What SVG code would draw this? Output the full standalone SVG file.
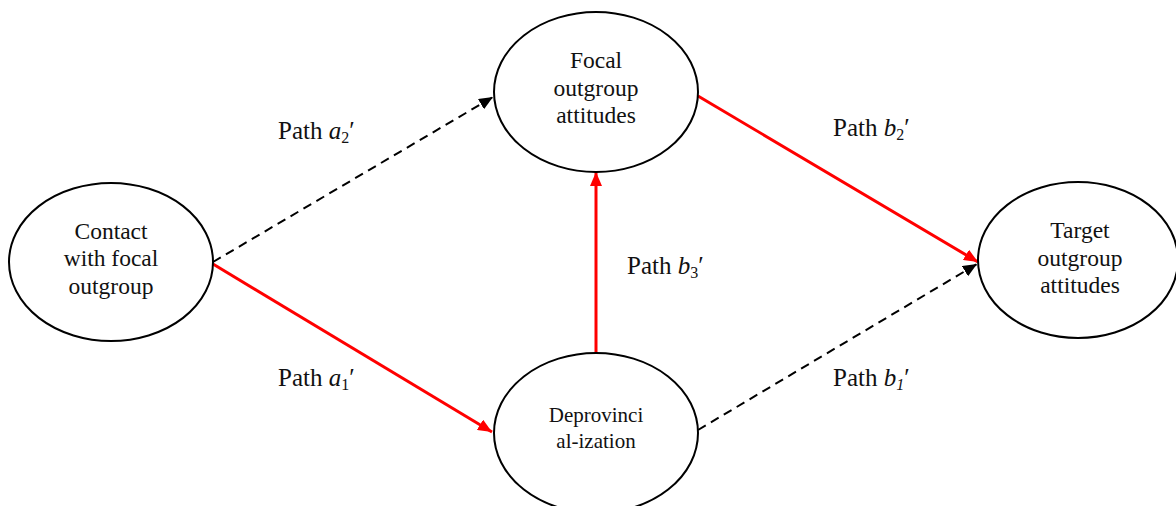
<svg xmlns="http://www.w3.org/2000/svg" width="1176" height="506" viewBox="0 0 1176 506">
  <style>
    .node ellipse { fill: #ffffff; stroke: #000000; stroke-width: 2; }
    .node text { font-family: "Liberation Serif", "Times New Roman", serif; font-size: 23.5px; fill: #111111; text-anchor: middle; }
    .node text.small { font-size: 21px; }
    .label { font-family: "Liberation Serif", "Times New Roman", serif; font-size: 25px; fill: #111111; }
    .label .v { font-style: italic; }
    .solid { stroke: #ff0000; stroke-width: 3; fill: none; }
    .dashed { stroke: #000000; stroke-width: 2; stroke-dasharray: 9 6; fill: none; }
  </style>
  <defs>
    <marker id="arrowRed" markerUnits="userSpaceOnUse" markerWidth="14" markerHeight="12" refX="14" refY="6" orient="auto">
      <path d="M0,0 L14,6 L0,12 Z" fill="#ff0000"/>
    </marker>
    <marker id="arrowBlack" markerUnits="userSpaceOnUse" markerWidth="14" markerHeight="12" refX="14" refY="6" orient="auto">
      <path d="M0,0 L14,6 L0,12 Z" fill="#000000"/>
    </marker>
  </defs>
  <rect width="1176" height="506" fill="#ffffff"/>

  <!-- connectors -->
  <g id="connectors">
    <line id="path-a2" class="dashed" x1="213" y1="262" x2="493" y2="97" marker-end="url(#arrowBlack)"/>
    <line id="path-a1" class="solid" x1="213" y1="264" x2="492" y2="432" marker-end="url(#arrowRed)"/>
    <line id="path-b3" class="solid" x1="596" y1="353" x2="596" y2="172" marker-end="url(#arrowRed)"/>
    <line id="path-b2" class="solid" x1="698" y1="96" x2="978" y2="262" marker-end="url(#arrowRed)"/>
    <line id="path-b1" class="dashed" x1="698" y1="430" x2="977" y2="264" marker-end="url(#arrowBlack)"/>
  </g>

  <!-- nodes -->
  <g id="contact" class="node">
    <ellipse cx="111" cy="262" rx="102" ry="79"/>
    <text x="111" y="239">Contact</text>
    <text x="111" y="266">with focal</text>
    <text x="111" y="294">outgroup</text>
  </g>
  <g id="focal" class="node">
    <ellipse cx="596" cy="92" rx="102" ry="80"/>
    <text x="596" y="68">Focal</text>
    <text x="596" y="96">outgroup</text>
    <text x="596" y="123">attitudes</text>
  </g>
  <g id="deprovincialization" class="node">
    <ellipse cx="596" cy="433" rx="102" ry="80"/>
    <text class="small" x="596" y="422">Deprovinci</text>
    <text class="small" x="596" y="448">al-ization</text>
  </g>
  <g id="target" class="node">
    <ellipse cx="1078" cy="260" rx="100" ry="78"/>
    <text x="1080" y="238">Target</text>
    <text x="1080" y="266">outgroup</text>
    <text x="1080" y="293">attitudes</text>
  </g>

  <!-- path labels -->
  <g id="labels">
    <text class="label" x="278" y="139">Path <tspan class="v">a</tspan><tspan font-size="16" dy="4">2</tspan><tspan dy="-4">′</tspan></text>
    <text class="label" x="278" y="386">Path <tspan class="v">a</tspan><tspan font-size="16" dy="4">1</tspan><tspan dy="-4">′</tspan></text>
    <text class="label" x="627" y="274">Path <tspan class="v">b</tspan><tspan font-size="16" dy="4">3</tspan><tspan dy="-4">′</tspan></text>
    <text class="label" x="833" y="136">Path <tspan class="v">b</tspan><tspan font-size="16" dy="4">2</tspan><tspan dy="-4">′</tspan></text>
    <text class="label" x="833" y="386">Path <tspan class="v">b</tspan><tspan class="v" font-size="16" dy="4">1</tspan><tspan dy="-4">′</tspan></text>
  </g>
</svg>
